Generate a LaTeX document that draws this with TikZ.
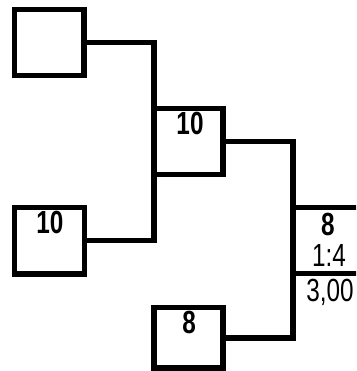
\documentclass[tikz,border=0pt]{standalone}
\usepackage{fontspec}
\setmainfont{Liberation Sans}
\newfontfamily\narrowfont[FakeStretch=0.76]{Liberation Sans}
\tikzset{
  box/.style={draw, line width=5.5pt, rectangle, inner sep=0pt, outer sep=0pt},
  wire/.style={draw, line width=5.5pt},
  lbl/.style={inner sep=0pt, anchor=base, font=\narrowfont\fontsize{32}{33}\selectfont},
  blbl/.style={inner sep=0pt, anchor=base, font=\narrowfont\bfseries\fontsize{32}{33}\selectfont}
}
\begin{document}
\begin{tikzpicture}[x=1pt,y=-1pt]
\useasboundingbox (0,0) rectangle (356,371);
\clip (0,0) rectangle (356,371);
\node[box, minimum width=69.5pt, minimum height=66.2pt] (b1) at (49.25,42.6) {};
\node[box, minimum width=68.8pt, minimum height=66pt] (b2) at (188.6,141.5) {};
\node[box, minimum width=70pt, minimum height=66.3pt] (b3) at (49.5,240.65) {};
\node[box, minimum width=68.8pt, minimum height=60.5pt] (b4) at (188.6,337.75) {};
\node[box, minimum width=127pt, minimum height=65.8pt] (win) at (356.5,240.4) {};
\draw[wire] (b1.east) -| (b2.north west);
\draw[wire] (b3.east) -| (b2.south west);
\draw[wire] (b2.east) -| (win.north west);
\draw[wire] (b4.east) -| (win.south west);
\node[blbl] (t2) at (190,134.7) {10};
\node[blbl] (t3) at (50,233.7) {10};
\node[blbl] (tw) at (328,235.7) {8};
\node[lbl] (tr) at (329,266.7) {1:4};
\node[lbl] (ts) at (330,301.5) {3,00};
\node[blbl] (t4) at (189.2,333.3) {8};
\end{tikzpicture}
\end{document}
